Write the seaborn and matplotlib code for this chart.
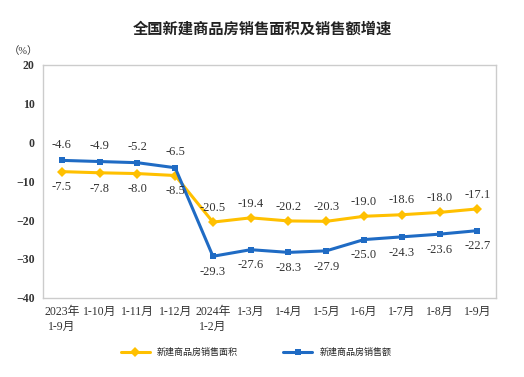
import matplotlib
matplotlib.use("Agg")
import matplotlib.pyplot as plt
import seaborn as sns
import pandas as pd

# data
months = ["2023年\n1-9月", "1-10月", "1-11月", "1-12月", "2024年\n1-2月", "1-3月",
          "1-4月", "1-5月", "1-6月", "1-7月", "1-8月", "1-9月"]
area = [-7.5, -7.8, -8.0, -8.5, -20.5, -19.4, -20.2, -20.3, -19.0, -18.6, -18.0, -17.1]
sales = [-4.6, -4.9, -5.2, -6.5, -29.3, -27.6, -28.3, -27.9, -25.0, -24.3, -23.6, -22.7]
area_name = "新建商品房销售面积"
sales_name = "新建商品房销售额"

sns.set_style("white")
fam = ["Liberation Serif", "Noto Sans CJK SC", "DejaVu Sans"]
plt.rcParams["font.family"] = fam

df = pd.DataFrame({"x": list(range(len(months))) * 2,
                   "v": area + sales,
                   "s": [area_name] * len(months) + [sales_name] * len(months)})

fig = plt.figure(figsize=(5.24, 3.77), dpi=100)
ax = fig.add_axes([0.082, 0.210, 0.865, 0.618])

yellow = "#FFC000"
blue = "#1F6BC4"
sns.lineplot(data=df, x="x", y="v", hue="s", style="s",
             palette={area_name: yellow, sales_name: blue},
             markers={area_name: "D", sales_name: "s"}, dashes=False,
             markersize=5, linewidth=2.2, markeredgewidth=0, ax=ax)

for i, (a, s) in enumerate(zip(area, sales)):
    if i < 4:
        ax.annotate(f"{s:.1f}", (i, s), xytext=(0, 7), textcoords="offset points",
                    ha="center", va="bottom", fontsize=9, color="#333333")
        ax.annotate(f"{a:.1f}", (i, a), xytext=(0, -7), textcoords="offset points",
                    ha="center", va="top", fontsize=9, color="#333333")
    else:
        ax.annotate(f"{a:.1f}", (i, a), xytext=(0, 6), textcoords="offset points",
                    ha="center", va="bottom", fontsize=9, color="#333333")
        ax.annotate(f"{s:.1f}", (i, s), xytext=(0, -7), textcoords="offset points",
                    ha="center", va="top", fontsize=9, color="#333333")

ax.set_xlim(-0.5, len(months) - 0.5)
ax.set_ylim(-40, 20)
ax.set_yticks(range(-40, 21, 10))
ax.set_xticks(range(len(months)))
ax.set_xticklabels(months, fontsize=8.5, color="#333333", linespacing=1.3)
ax.set_xticks([i + 0.5 for i in range(len(months) - 1)], minor=True)
ax.tick_params(axis="x", which="major", length=0, pad=6)
ax.tick_params(axis="x", which="minor", length=4, direction="in", color="#bbbbbb")
ax.tick_params(axis="y", length=0, labelsize=8.5, labelcolor="#333333", pad=6)
for t in ax.get_yticklabels():
    t.set_fontweight("bold")
for sp in ax.spines.values():
    sp.set_color("#cccccc")
    sp.set_linewidth(1)
ax.set_xlabel("")
ax.set_ylabel("")

ax.text(-0.01, 1.04, "（%）", transform=ax.transAxes, ha="right", va="bottom",
        fontsize=7.5, color="#333333")
fig.text(0.5, 0.925, "全国新建商品房销售面积及销售额增速", ha="center", va="center",
         fontsize=11, color="#222222", fontweight="bold",
         family=["Noto Sans CJK SC", "DejaVu Sans"])

h, l = ax.get_legend_handles_labels()
ax.legend(h, l, loc="center", bbox_to_anchor=(0.47, -0.235), ncol=2, frameon=False,
          handlelength=3.2, columnspacing=5,
          prop={"family": ["Noto Sans CJK SC", "DejaVu Sans"], "size": 6.5})

fig.savefig("out.png", dpi=100)
